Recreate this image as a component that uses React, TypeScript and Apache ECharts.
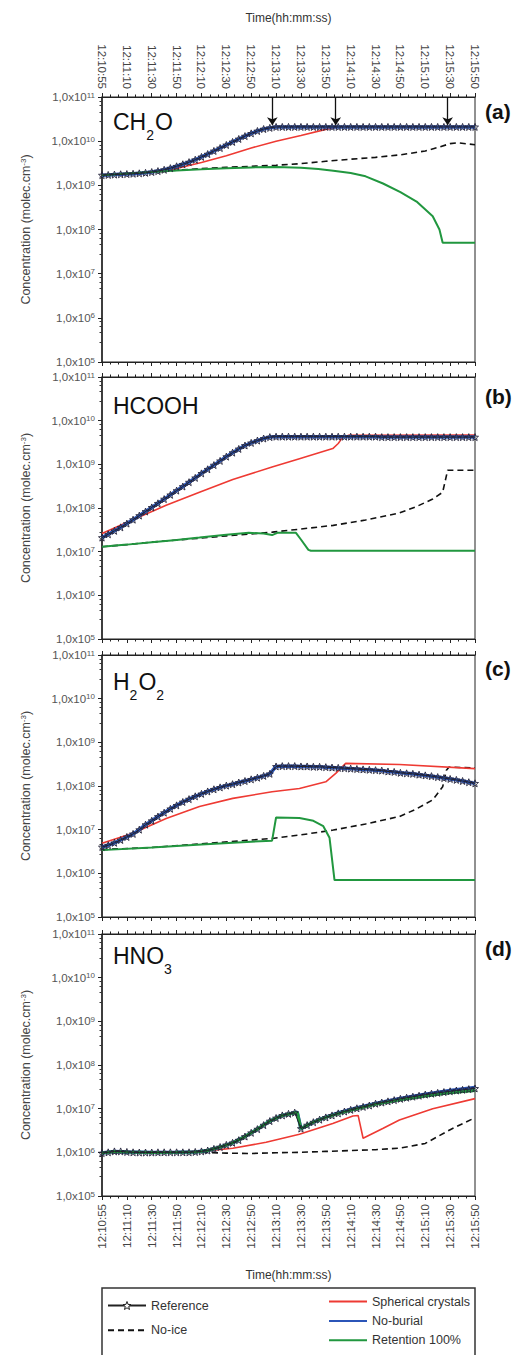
import React, { useEffect, useRef } from "react";
import * as echarts from "echarts";

// ---------- data ----------
const timeLabels = [
  "12:10:55", "12:11:10", "12:11:30", "12:11:50", "12:12:10", "12:12:30", "12:12:50", "12:13:10",
  "12:13:30", "12:13:50", "12:14:10", "12:14:30", "12:14:50", "12:15:10", "12:15:30", "12:15:50",
];
// reference series sampled every quarter of a tick interval (t = 0 .. 15)
const T_STEP = 0.25;

const referenceA = [
  1.7e9, 1.72e9, 1.75e9, 1.78e9, 1.8e9, 1.83e9, 1.87e9, 1.92e9, 2.0e9, 2.1e9, 2.25e9, 2.45e9, 2.7e9, 3.0e9,
  3.35e9, 3.8e9, 4.4e9, 5.1e9, 6.0e9, 7.0e9, 8.2e9, 9.6e9, 1.12e10, 1.3e10, 1.5e10, 1.7e10, 1.88e10, 2.0e10,
  2.1e10, 2.1e10, 2.1e10, 2.1e10, 2.1e10, 2.1e10, 2.1e10, 2.1e10, 2.1e10, 2.1e10, 2.1e10, 2.1e10, 2.1e10,
  2.1e10, 2.1e10, 2.1e10, 2.1e10, 2.1e10, 2.1e10, 2.1e10, 2.1e10, 2.1e10, 2.1e10, 2.1e10, 2.1e10, 2.1e10,
  2.1e10, 2.1e10, 2.1e10, 2.1e10, 2.1e10, 2.1e10, 2.1e10,
];
const referenceB = [
  2.1e7, 2.5e7, 3.0e7, 3.6e7, 4.4e7, 5.4e7, 6.7e7, 8.3e7, 1.03e8, 1.28e8, 1.6e8, 2.0e8, 2.5e8, 3.1e8, 3.9e8,
  4.9e8, 6.2e8, 7.7e8, 9.6e8, 1.2e9, 1.5e9, 1.85e9, 2.25e9, 2.7e9, 3.1e9, 3.5e9, 3.9e9, 4.2e9, 4.3e9,
  4.3e9, 4.3e9, 4.3e9, 4.3e9, 4.3e9, 4.3e9, 4.3e9, 4.3e9, 4.3e9, 4.3e9, 4.3e9, 4.3e9, 4.3e9, 4.3e9, 4.3e9,
  4.3e9, 4.2e9, 4.2e9, 4.2e9, 4.2e9, 4.2e9, 4.2e9, 4.2e9, 4.2e9, 4.2e9, 4.2e9, 4.2e9, 4.2e9, 4.2e9, 4.2e9,
  4.2e9, 4.2e9,
];
const referenceC = [
  4.0e6, 4.4e6, 5.0e6, 5.8e6, 6.8e6, 8.0e6, 1.0e7, 1.3e7, 1.6e7, 2.0e7, 2.45e7, 3.0e7, 3.6e7, 4.3e7, 5.0e7,
  5.8e7, 6.6e7, 7.5e7, 8.4e7, 9.3e7, 1.02e8, 1.1e8, 1.2e8, 1.3e8, 1.42e8, 1.55e8, 1.7e8, 1.9e8,
  2.8e8, 2.85e8, 2.85e8, 2.85e8, 2.8e8, 2.8e8, 2.75e8, 2.75e8, 2.7e8, 2.65e8, 2.6e8, 2.55e8, 2.5e8, 2.45e8,
  2.4e8, 2.35e8, 2.3e8, 2.25e8, 2.15e8, 2.1e8, 2.0e8, 1.95e8, 1.9e8, 1.82e8, 1.75e8, 1.68e8, 1.6e8, 1.52e8,
  1.45e8, 1.38e8, 1.3e8, 1.22e8, 1.15e8,
];
const referenceD = [
  9.6e5, 1.0e6, 1.05e6, 1.05e6, 1.02e6, 1.0e6, 9.9e5, 9.9e5, 9.9e5, 1.0e6, 1.0e6, 1.0e6, 1.0e6, 1.0e6, 1.0e6,
  1.02e6, 1.05e6, 1.1e6, 1.2e6, 1.32e6, 1.48e6, 1.65e6, 1.9e6, 2.3e6, 2.8e6, 3.4e6, 4.2e6, 5.2e6, 6.1e6,
  7.0e6, 7.6e6, 8.1e6, 3.5e6, 4.2e6, 4.9e6, 5.6e6, 6.3e6, 7.0e6, 7.8e6, 8.6e6, 9.4e6, 1.02e7, 1.1e7, 1.18e7,
  1.3e7, 1.38e7, 1.47e7, 1.57e7, 1.68e7, 1.78e7, 1.88e7, 1.98e7, 2.1e7, 2.2e7, 2.3e7, 2.4e7, 2.5e7, 2.6e7,
  2.7e7, 2.8e7, 2.9e7,
];

// No-burial coincides with the reference in (a)-(c)
const noBurialA = referenceA;
const noBurialB = referenceB;
const noBurialC = referenceC;
const noBurialD = [
  [0, 9.6e5], [0.5, 1.05e6], [1, 1.02e6], [2, 9.9e5], [3, 1.0e6], [3.75, 1.02e6], [4.25, 1.1e6], [4.75, 1.32e6],
  [5.25, 1.65e6], [5.75, 2.3e6], [6.25, 3.4e6], [6.75, 5.2e6], [7.25, 7.0e6], [7.75, 8.1e6], [7.85, 8.3e6],
  [8.0, 3.5e6], [8.5, 4.9e6], [9, 6.4e6], [9.5, 8.0e6], [10, 9.6e6], [11, 1.32e7], [12, 1.72e7], [13, 2.15e7],
  [14, 2.6e7], [15, 3.05e7],
];

const sphericalA = [
  [0, 1.7e9], [1, 1.8e9], [2, 1.95e9], [2.5, 2.1e9], [3, 2.4e9], [4, 3.3e9], [5, 4.7e9], [6, 7.0e9],
  [7, 1.0e10], [8, 1.35e10], [9, 1.85e10], [9.45, 2.1e10], [15, 2.1e10],
];
const sphericalB = [
  [0, 2.6e7], [1.24, 5.4e7], [2.58, 1.15e8], [3.92, 2.3e8], [5.26, 4.5e8], [6.84, 8.7e8], [7.94, 1.35e9],
  [9.28, 2.3e9], [9.5, 3.0e9], [9.68, 4.2e9], [9.9, 4.6e9], [15, 4.7e9],
];
const sphericalC = [
  [0, 4.9e6], [1.24, 8.3e6], [2.58, 1.8e7], [3.92, 3.4e7], [5.26, 5.2e7], [6.84, 7.4e7], [7.94, 8.8e7],
  [9.0, 1.25e8], [9.4, 1.95e8], [9.8, 3.3e8], [11.96, 3.1e8], [15, 2.5e8],
];
const sphericalD = [
  [0, 9.6e5], [1, 1.02e6], [2, 1.0e6], [3, 1.0e6], [4, 1.05e6], [5.26, 1.24e6], [6.6, 1.7e6], [7.94, 2.6e6],
  [9.28, 4.6e6], [10.09, 6.8e6], [10.3, 7.0e6], [10.5, 2.1e6], [11.29, 3.5e6], [11.96, 5.5e6], [13.3, 1.0e7],
  [15, 1.7e7],
];

const noIceA = [
  [0, 1.7e9], [1, 1.85e9], [2, 2.0e9], [3, 2.2e9], [4, 2.4e9], [5, 2.55e9], [6, 2.7e9], [7, 2.85e9],
  [8, 3.1e9], [9, 3.5e9], [10, 3.9e9], [11, 4.3e9], [12, 4.9e9], [13, 6.0e9], [13.5, 7.2e9], [14, 8.8e9],
  [14.3, 9.2e9], [15, 8.3e9],
];
const noIceB = [
  [0, 1.3e7], [1, 1.45e7], [2, 1.65e7], [3, 1.85e7], [4, 2.05e7], [5, 2.3e7], [6, 2.55e7], [6.85, 2.8e7],
  [8, 3.3e7], [9.3, 4.0e7], [10.6, 5.3e7], [11.96, 7.7e7], [12.6, 1.05e8], [13.3, 1.6e8], [13.7, 2.3e8],
  [13.9, 7.3e8], [15, 7.3e8],
];
const noIceC = [
  [0, 3.5e6], [2, 3.9e6], [3.9, 4.7e6], [5.5, 5.5e6], [6.85, 6.3e6], [8, 7.6e6], [9.3, 9.8e6], [10.6, 1.35e7],
  [11.96, 2.0e7], [12.6, 2.9e7], [13.3, 4.8e7], [13.7, 9.6e7], [13.85, 2.3e8], [13.95, 2.7e8], [15, 2.6e8],
];
const noIceD = [
  [0, 9.6e5], [2, 9.8e5], [4, 1.0e6], [5, 9.6e5], [6, 9.4e5], [7, 9.8e5], [8, 1.0e6], [9, 1.05e6],
  [10, 1.1e6], [11, 1.15e6], [12, 1.25e6], [13, 1.6e6], [13.5, 2.3e6], [14, 3.3e6], [15, 6.2e6],
];

const retentionA = [
  [0, 1.7e9], [1, 1.85e9], [2, 2.0e9], [3, 2.18e9], [4, 2.3e9], [5, 2.45e9], [6, 2.55e9], [7, 2.6e9],
  [8, 2.5e9], [8.7, 2.35e9], [9.3, 2.15e9], [10, 1.9e9], [10.6, 1.6e9], [11.3, 1.1e9], [12, 7.0e8],
  [12.65, 4.3e8], [13.3, 2.0e8], [13.57, 1.0e8], [13.7, 5.0e7], [15, 5.0e7],
];
const retentionB = [
  [0, 1.3e7], [1, 1.45e7], [2, 1.65e7], [3, 1.85e7], [3.92, 2.1e7], [5, 2.45e7], [5.9, 2.7e7], [6.5, 2.6e7],
  [6.84, 2.4e7], [7.05, 2.7e7], [7.8, 2.7e7], [8.0, 1.9e7], [8.3, 1.1e7], [8.4, 1.05e7], [15, 1.05e7],
];
const retentionC = [
  [0, 3.4e6], [2, 3.9e6], [4, 4.6e6], [6, 5.3e6], [6.84, 5.6e6], [7.0, 1.9e7], [7.94, 1.85e7], [8.5, 1.6e7],
  [8.9, 1.2e7], [9.15, 6.5e6], [9.35, 7.0e5], [15, 7.0e5],
];
const retentionD = [
  [0, 9.6e5], [0.5, 1.05e6], [1, 1.02e6], [2, 9.9e5], [3, 1.0e6], [3.75, 1.02e6], [4.25, 1.1e6], [4.75, 1.32e6],
  [5.25, 1.65e6], [5.75, 2.3e6], [6.25, 3.4e6], [6.75, 5.2e6], [7.25, 7.0e6], [7.75, 8.1e6], [7.85, 8.3e6],
  [8.0, 3.5e6], [8.5, 4.9e6], [9, 6.3e6], [9.5, 7.7e6], [10, 9.2e6], [11, 1.26e7], [12, 1.6e7], [13, 1.95e7],
  [14, 2.3e7], [15, 2.6e7],
];

// arrows in panel (a): times and tip value
const arrowTimes = [6.85, 9.4, 13.9];
const arrowTop = 1e11;
const arrowTip = 2.3e10;

const molecules: [string, boolean][][] = [
  [["CH", false], ["2", true], ["O", false]],
  [["HCOOH", false]],
  [["H", false], ["2", true], ["O", false], ["2", true]],
  [["HNO", false], ["3", true]],
];
const panelTags = ["(a)", "(b)", "(c)", "(d)"];
const legendLeft = ["Reference", "No-ice"];
const legendRight = ["Spherical crystals", "No-burial", "Retention 100%"];

// ---------- layout / style ----------
const FONT = '"Liberation Sans", Arial, Helvetica, sans-serif';
const GRID_LEFT = 102;
const GRID_WIDTH = 373;
const gridTops = [97, 377, 655, 934];
const gridHeights = [265, 262, 262, 262];
const moleculeCenters = [121.5, 406, 682, 956];
const tagCenters = [111, 396, 668, 948];

const STAR =
  "path://M12,1 L14.9,8.6 L23,9 L16.7,14 L18.9,22 L12,17.5 L5.1,22 L7.3,14 L1,9 L9.1,8.6 Z";

const COLORS = {
  ref: "#222222",
  noIce: "#111111",
  red: "#ee3a33",
  blue: "#2b55b8",
  green: "#21973f",
};

function toPairs(a: any[]): number[][] {
  if (typeof a[0] === "number") return (a as number[]).map((v, i) => [i * T_STEP, v]);
  return a as number[][];
}

function measure(text: string, size: number): number {
  const c = document.createElement("canvas").getContext("2d");
  if (!c) return text.length * size * 0.6;
  c.font = `${size}px "Liberation Sans", Arial`;
  return c.measureText(text).width;
}

function buildOption(): any {
  const panels = [
    { ref: referenceA, nb: noBurialA, ret: retentionA, sph: sphericalA, ni: noIceA },
    { ref: referenceB, nb: noBurialB, ret: retentionB, sph: sphericalB, ni: noIceB },
    { ref: referenceC, nb: noBurialC, ret: retentionC, sph: sphericalC, ni: noIceC },
    { ref: referenceD, nb: noBurialD, ret: retentionD, sph: sphericalD, ni: noIceD },
  ];

  const grid = gridTops.map((t, i) => ({
    left: GRID_LEFT,
    width: GRID_WIDTH,
    top: t,
    height: gridHeights[i],
    show: true,
    borderColor: "#222",
    borderWidth: 1,
    backgroundColor: "transparent",
  }));

  const xAxis: any[] = [];
  for (let p = 0; p < 4; p++) {
    for (const pos of ["bottom", "top"]) {
      const showLab = (p === 3 && pos === "bottom") || (p === 0 && pos === "top");
      xAxis.push({
        type: "value",
        gridIndex: p,
        position: pos,
        min: 0,
        max: 15,
        interval: 1,
        axisLine: { show: true, onZero: false, lineStyle: { color: "#222", width: 1.2 } },
        axisTick: { show: true, length: 4, lineStyle: { color: "#222" } },
        minorTick: { show: true, splitNumber: 3, length: 2.5, lineStyle: { color: "#222" } },
        splitLine: { show: false },
        minorSplitLine: { show: false },
        axisLabel: {
          show: showLab,
          rotate: 90,
          margin: 8,
          fontSize: 11.5,
          color: "#444",
          fontFamily: FONT,
          formatter: (v: number) => timeLabels[Math.round(v)] ?? "",
        },
        name: showLab ? "Time(hh:mm:ss)" : "",
        nameLocation: "middle",
        nameGap: 73,
        nameTextStyle: { fontSize: 12, color: "#333", fontFamily: FONT },
      });
    }
  }

  const yAxis = gridTops.map((_, p) => ({
    type: "log",
    logBase: 10,
    gridIndex: p,
    min: 1e5,
    max: 1e11,
    splitNumber: 6,
    axisLine: { show: true, lineStyle: { color: "#222", width: 1.5 } },
    axisTick: { show: true, length: 4, lineStyle: { color: "#222" } },
    minorTick: { show: true, splitNumber: 5, length: 2.5, lineStyle: { color: "#333" } },
    splitLine: { show: false },
    minorSplitLine: { show: false },
    axisLabel: {
      showMinLabel: true,
      showMaxLabel: true,
      margin: 7,
      fontSize: 11.5,
      lineHeight: 12,
      color: "#555",
      fontFamily: FONT,
      formatter: (v: number) => `1,0x10{sup|${Math.round(Math.log10(v))}}`,
      rich: {
        sup: { fontSize: 8, lineHeight: 8, padding: [0, 0, 7, 0], verticalAlign: "top", color: "#555", fontFamily: FONT },
      },
    },
    name: "Concentration (molec.cm{sup|-3})",
    nameLocation: "middle",
    nameRotate: 90,
    nameGap: 70,
    nameTextStyle: {
      fontSize: 12.5,
      color: "#444",
      fontFamily: FONT,
      rich: {
        sup: { fontSize: 8, lineHeight: 8, padding: [0, 0, 8, 0], verticalAlign: "top", color: "#444", fontFamily: FONT },
      },
    },
  }));

  const series: any[] = [];
  panels.forEach((pd, p) => {
    const common = { type: "line", xAxisIndex: 2 * p, yAxisIndex: p, animation: false, z: 2 };
    series.push({
      ...common,
      name: "No-ice",
      data: toPairs(pd.ni),
      symbol: "none",
      lineStyle: { color: COLORS.noIce, width: 1.6, type: [6, 4] },
      itemStyle: { color: COLORS.noIce },
    });
    series.push({
      ...common,
      name: "Spherical crystals",
      data: toPairs(pd.sph),
      symbol: "none",
      lineStyle: { color: COLORS.red, width: 1.6 },
      itemStyle: { color: COLORS.red },
    });
    series.push({
      ...common,
      name: "No-burial",
      data: toPairs(pd.nb),
      symbol: "none",
      lineStyle: { color: COLORS.blue, width: 3.5 },
      itemStyle: { color: COLORS.blue },
    });
    series.push({
      ...common,
      name: "Retention 100%",
      data: toPairs(pd.ret),
      symbol: "none",
      lineStyle: { color: COLORS.green, width: p === 3 ? 3 : 2 },
      itemStyle: { color: COLORS.green },
    });
    const refSeries: any = {
      ...common,
      name: "Reference",
      data: toPairs(pd.ref),
      symbol: STAR,
      symbolSize: 7,
      showSymbol: true,
      lineStyle: { color: COLORS.ref, width: 1 },
      itemStyle: { color: "rgba(0,0,0,0)", borderColor: "#22223a", borderWidth: 0.9 },
      z: 3,
    };
    if (p === 0) {
      refSeries.markLine = {
        silent: true,
        symbol: ["none", "arrow"],
        symbolSize: 8,
        label: { show: false },
        lineStyle: { color: "#111", width: 1.3, type: "solid" },
        data: arrowTimes.map((t) => [{ coord: [t, arrowTop] }, { coord: [t, arrowTip] }]),
      };
    }
    series.push(refSeries);
  });

  const graphic: any[] = [];
  const MOL_SIZE = 23;
  const SUB_SIZE = 14;
  molecules.forEach((parts, p) => {
    let x = 113;
    const cy = moleculeCenters[p];
    parts.forEach(([txt, sub]) => {
      const size = sub ? SUB_SIZE : MOL_SIZE;
      graphic.push({
        type: "text",
        x,
        y: sub ? cy + 13 : cy,
        style: {
          text: txt,
          fontSize: size,
          fontFamily: FONT,
          fill: "#111",
          align: "left",
          verticalAlign: "middle",
        },
      });
      x += measure(txt, size) + (sub ? 1 : 0);
    });
  });
  panelTags.forEach((tag, p) => {
    graphic.push({
      type: "text",
      x: 485,
      y: tagCenters[p],
      style: {
        text: tag,
        fontSize: 21,
        fontWeight: "bold",
        fontFamily: FONT,
        fill: "#111",
        align: "left",
        verticalAlign: "middle",
      },
    });
  });
  graphic.push({
    type: "rect",
    shape: { x: 102, y: 1288, width: 373, height: 90 },
    style: { fill: "none", stroke: "#333", lineWidth: 1.5 },
    silent: true,
  });

  const legendText = { fontSize: 12.5, color: "#333", fontFamily: FONT };
  const legendItem = (name: string) =>
    name === "Reference"
      ? { name, itemStyle: { color: "#ffffff", borderColor: "#222", borderWidth: 1 } }
      : { name, itemStyle: { opacity: 0 } };
  const legend = [
    {
      data: legendLeft.map(legendItem),
      orient: "vertical",
      left: 107,
      top: 1299,
      padding: 0,
      height: 60,
      itemWidth: 38,
      itemHeight: 10,
      itemGap: 11.7,
      textStyle: legendText,
      selectedMode: false,
    },
    {
      data: legendRight.map(legendItem),
      orient: "vertical",
      left: 328,
      top: 1295,
      padding: 0,
      height: 60,
      itemWidth: 38,
      itemHeight: 14,
      itemGap: 6.4,
      textStyle: legendText,
      selectedMode: false,
    },
  ];

  return {
    animation: false,
    backgroundColor: "#ffffff",
    textStyle: { fontFamily: FONT },
    grid,
    xAxis,
    yAxis,
    series,
    legend,
    graphic,
  };
}

export default function App() {
  const ref = useRef<HTMLDivElement>(null);
  useEffect(() => {
    document.body.style.margin = "0";
    if (!ref.current) return;
    const chart = echarts.init(ref.current, null, { renderer: "svg" });
    chart.setOption(buildOption());
    return () => chart.dispose();
  }, []);
  return <div ref={ref} style={{ width: 528, height: 1355 }} />;
}
